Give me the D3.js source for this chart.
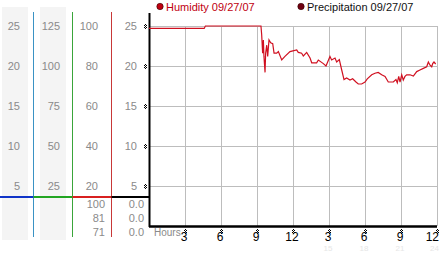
<!DOCTYPE html>
<html>
<head>
<meta charset="utf-8">
<script src="https://cdn.jsdelivr.net/npm/d3@7"></script>
<style>
  body { margin: 0; background: #fff; }
  svg { display: block; font-family: "Liberation Sans", Arial, sans-serif; }
</style>
</head>
<body>
<svg id="chart" width="442" height="253"></svg>
<script>
// hours since midnight and humidity readings
const hours = [0, 4.6, 4.7, 9.33, 9.39, 9.47, 9.53, 9.58, 9.67, 9.72, 9.81, 9.89, 10.0, 10.14, 10.31, 10.42,
  10.64, 10.78, 11.06, 11.33, 11.75, 12.31, 12.44, 12.72, 12.86, 13.14, 13.42, 13.56, 13.97, 14.11, 14.53,
  14.75, 15.08, 15.22, 15.5, 15.64, 15.86, 16.06, 16.25, 16.47, 16.75, 16.97, 17.25, 17.44, 17.72, 18.0,
  18.19, 18.56, 18.83, 19.1, 19.39, 19.67, 19.94, 20.36, 20.58, 20.69, 20.81, 20.92, 21.06, 21.19, 21.33,
  21.47, 21.75, 22.03, 22.31, 22.58, 22.86, 23.14, 23.28, 23.42, 23.56, 23.64, 23.75, 23.89];
const humidity = [24.7, 24.7, 25.0, 25.0, 23.9, 21.6, 23.25, 21.2, 19.2, 21.6, 22.6, 21.2, 23.25, 22.9, 22.8, 21.6,
  21.6, 21.8, 20.75, 21.2, 21.8, 22.0, 21.7, 21.6, 21.25, 21.7, 21.0, 20.4, 20.4, 20.75, 20.3,
  20.0, 21.2, 20.75, 21.0, 20.5, 20.8, 19.5, 18.3, 18.5, 18.25, 18.4, 18.0, 17.75, 17.75, 18.0,
  18.4, 18.9, 19.1, 19.2, 18.9, 18.7, 18.0, 18.0, 18.3, 17.9, 18.7, 18.0, 18.9, 18.25, 18.7,
  18.9, 18.9, 18.75, 19.3, 19.5, 19.7, 19.9, 20.5, 20.1, 19.9, 20.3, 20.5, 20.25];

const xTicks = [3, 6, 9, 12, 15, 18, 21, 24];
const xTickLabels = ['3', '6', '9', '12', '3', '6', '9', '12'];
const xTickLabels2 = ['', '', '', '', '15', '18', '21', '24'];
const yTicks = [5, 10, 15, 20, 25];

// left side scales (same positions, different units)
const scaleCols = [
  {domain: [0, 25], ticks: [5, 10, 15, 20, 25]},
  {domain: [0, 125], ticks: [25, 50, 75, 100, 125]},
  {domain: [0, 100], ticks: [20, 40, 60, 80, 100]},
  {domain: [0, 25], ticks: [5, 10, 15, 20, 25]}
];
const tableCol3 = ['100', '81', '71'];
const tableCol4 = ['0.0', '0.0', '0.0'];

const legendItems = ['Humidity 09/27/07', 'Precipitation 09/27/07'];

const svg = d3.select('#chart');

const x = d3.scaleLinear().domain([0, 24]).range([149, 437]);
const y = d3.scaleLinear().domain([0, 25]).range([226, 26]);

// gray column backgrounds
svg.append('rect').attr('x', 2).attr('y', 7).attr('width', 26).attr('height', 233).style('fill', '#f4f4f4');
svg.append('rect').attr('x', 40).attr('y', 7).attr('width', 26).attr('height', 233).style('fill', '#f4f4f4');

// column right edges & divider lines
const colRight = [20, 60, 98, 137];
const dividers = [{x: 33.5, c: '#3a92c4'}, {x: 72.5, c: '#3aa53a'}, {x: 111.5, c: '#c83838'}];

dividers.forEach(d => {
  svg.append('line')
    .attr('x1', d.x).attr('x2', d.x).attr('y1', 12).attr('y2', 237)
    .style('stroke', d.c).style('stroke-width', 1);
});

scaleCols.forEach((col, i) => {
  const s = d3.scaleLinear().domain(col.domain).range([y(0), y(25)]);
  svg.append('g').selectAll('text')
    .data(col.ticks)
    .enter()
    .append('text')
    .attr('x', colRight[i])
    .attr('y', d => s(d) + 4)
    .attr('text-anchor', 'end')
    .style('font-size', '11px')
    .style('fill', '#8a8a8a')
    .text(d => d);
});

// separator strip
const sepColors = ['#1034c8', '#22a522', '#d82020', '#000'];
const sepX = [0, 33.5, 72.5, 111.5, 149];
sepColors.forEach((c, i) => {
  svg.append('line')
    .attr('x1', sepX[i]).attr('x2', sepX[i + 1]).attr('y1', 197).attr('y2', 197)
    .style('stroke', c).style('stroke-width', 2);
});

// table rows
const rowY = d3.scalePoint().domain([0, 1, 2]).range([208, 236]);
[[tableCol3, 105], [tableCol4, 144]].forEach(([vals, xr]) => {
  svg.append('g').selectAll('text')
    .data(vals)
    .enter()
    .append('text')
    .attr('x', xr)
    .attr('y', (d, i) => rowY(i))
    .attr('text-anchor', 'end')
    .style('font-size', '11px')
    .style('fill', '#8a8a8a')
    .text(d => d);
});

// grid
svg.append('g').selectAll('line')
  .data(xTicks)
  .enter()
  .append('line')
  .attr('x1', d => x(d) + 0.5).attr('x2', d => x(d) + 0.5)
  .attr('y1', y(25)).attr('y2', y(0))
  .style('stroke', '#bdbdbd');
svg.append('g').selectAll('line')
  .data(yTicks)
  .enter()
  .append('line')
  .attr('x1', x(0)).attr('x2', x(24) + 1)
  .attr('y1', d => y(d) + 0.5).attr('y2', d => y(d) + 0.5)
  .style('stroke', '#bdbdbd');

// little checker tick marks
function tickMark(g, cx, cy) {
  [[-1, -1], [1, -1], [0, 0], [-1, 1], [1, 1], [0, -2], [0, 2]].forEach(([dx, dy]) => {
    g.append('rect').attr('x', cx + dx).attr('y', cy + dy).attr('width', 1).attr('height', 1).style('fill', '#000');
  });
}
const gMarks = svg.append('g');
yTicks.forEach(t => tickMark(gMarks, 145, Math.round(y(t))));
xTicks.forEach(t => tickMark(gMarks, Math.round(x(t)), 231));

// axes
svg.append('line').attr('x1', 149.5).attr('x2', 149.5).attr('y1', 13).attr('y2', 227)
  .style('stroke', '#000').style('stroke-width', 2);
svg.append('line').attr('x1', 149).attr('x2', x(24)).attr('y1', 226.5).attr('y2', 226.5)
  .style('stroke', '#000').style('stroke-width', 2.5);

svg.append('text').attr('x', 154).attr('y', 236).style('font-size', '10px').style('fill', '#8a8a8a').text('Hours');

svg.append('g').selectAll('text')
  .data(xTicks)
  .enter()
  .append('text')
  .attr('x', (d, i) => (i === xTicks.length - 1 ? 439 : x(d) - 1))
  .attr('y', 241)
  .attr('text-anchor', (d, i) => (i === xTicks.length - 1 ? 'end' : 'middle'))
  .style('font-size', '12px')
  .style('fill', '#000')
  .text((d, i) => xTickLabels[i]);
svg.append('g').selectAll('text')
  .data(xTicks)
  .enter()
  .append('text')
  .attr('x', (d, i) => (i === xTicks.length - 1 ? 439 : x(d) - 1))
  .attr('y', 251)
  .attr('text-anchor', (d, i) => (i === xTicks.length - 1 ? 'end' : 'middle'))
  .style('font-size', '8px')
  .style('fill', '#e6e6e6')
  .text((d, i) => xTickLabels2[i]);

// humidity line
const line = d3.line().x((d, i) => x(hours[i])).y(d => y(d));
svg.append('path')
  .datum(humidity)
  .attr('d', line)
  .style('fill', 'none')
  .style('stroke', '#d01020')
  .style('stroke-width', 1.2);

// legend
const legendX = [160, 301];
const legendDot = ['#c00010', '#700010'];
const legendText = ['#c00010', '#111'];
legendItems.forEach((t, i) => {
  svg.append('circle').attr('cx', legendX[i]).attr('cy', 6.5).attr('r', 3.2)
    .style('fill', legendDot[i]).style('stroke', '#300').style('stroke-width', 0.6);
  svg.append('text').attr('x', legendX[i] + 6).attr('y', 11)
    .style('font-size', '11px').style('fill', legendText[i]).text(t);
});
</script>
</body>
</html>
